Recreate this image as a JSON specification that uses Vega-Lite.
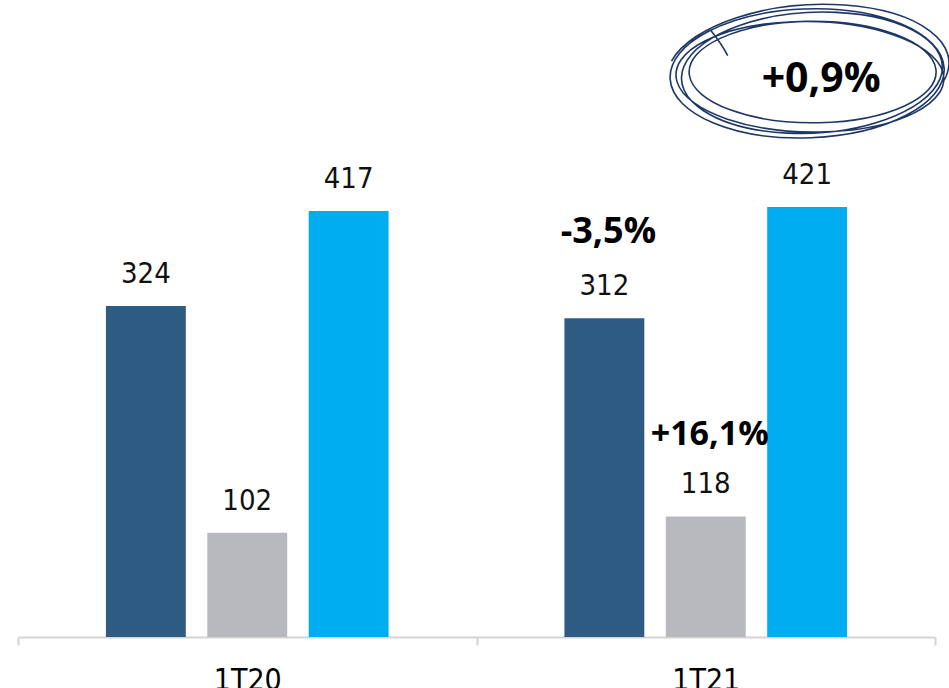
{
  "$schema": "https://vega.github.io/schema/vega-lite/v6.json",
  "width": 917,
  "height": 637,
  "autosize": {"type": "none"},
  "padding": {"left": 18, "top": 0, "right": 14, "bottom": 51},
  "background": "white",
  "config": {"view": {"stroke": null}},
  "datasets": {
    "bars": [
      {"period": "1T20", "series": "A", "value": 324},
      {"period": "1T20", "series": "B", "value": 102},
      {"period": "1T20", "series": "C", "value": 417},
      {"period": "1T21", "series": "A", "value": 312},
      {"period": "1T21", "series": "B", "value": 118},
      {"period": "1T21", "series": "C", "value": 421}
    ],
    "noteA": [
      {"period": "1T21", "series": "A", "pos": 396, "label": "-3,5%"}
    ],
    "noteB": [
      {"period": "1T21", "series": "B", "pos": 198, "label": "+16,1%"}
    ],
    "big": [
      {"period": "1T21", "series": "C", "pos": 545, "ring": 553, "label": "+0,9%"}
    ]
  },
  "encoding": {
    "x": {
      "field": "period", "type": "nominal", "title": null,
      "scale": {"domain": ["1T20", "1T21"], "paddingInner": 0, "paddingOuter": 0},
      "axis": {
        "domainColor": "#d4d4d4", "domainWidth": 2, "tickColor": "#d4d4d4", "tickWidth": 2,
        "tickSize": 8, "tickBand": "extent", "labelAngle": 0,
        "labelFont": "DejaVu Sans Condensed, Roboto", "labelFontSize": 30, "labelColor": "#000000",
        "labelPadding": 20, "labelBaseline": "top"
      }
    },
    "xOffset": {
      "field": "series", "type": "nominal",
      "scale": {"domain": ["A", "B", "C"], "paddingInner": 0.212, "paddingOuter": 0.867}
    }
  },
  "layer": [
    {
      "data": {"name": "bars"},
      "mark": {"type": "bar"},
      "encoding": {
        "y": {"field": "value", "type": "quantitative", "scale": {"domain": [0, 623.5], "nice": false, "zero": true}, "axis": null},
        "color": {
          "field": "series", "type": "nominal", "legend": null,
          "scale": {"domain": ["A", "B", "C"], "range": ["#2d5b82", "#b8b9bd", "#00adef"]}
        }
      }
    },
    {
      "data": {"name": "bars"},
      "mark": {"type": "text", "font": "DejaVu Sans Condensed, Roboto", "fontSize": 29, "color": "#111111", "baseline": "alphabetic", "dy": -23},
      "encoding": {
        "y": {"field": "value", "type": "quantitative"},
        "text": {"field": "value", "type": "quantitative"}
      }
    },
    {
      "data": {"name": "noteA"},
      "mark": {"type": "text", "font": "Open Sans", "fontWeight": "bold", "fontSize": 36, "color": "#000000", "baseline": "middle", "dx": 4},
      "encoding": {
        "y": {"field": "pos", "type": "quantitative"},
        "text": {"field": "label"}
      }
    },
    {
      "data": {"name": "noteB"},
      "mark": {"type": "text", "font": "Open Sans", "fontWeight": "bold", "fontSize": 34, "color": "#000000", "baseline": "middle", "dx": 4},
      "encoding": {
        "y": {"field": "pos", "type": "quantitative"},
        "text": {"field": "label"}
      }
    },
    {
      "data": {"name": "big"},
      "mark": {
        "type": "point", "filled": false, "stroke": "#1e3766", "strokeWidth": 1.6, "opacity": 1, "dx": 10,
        "shape": "M -1 0.05 A 1 0.47 -2 1 1 1 -0.03 A 1 0.47 -2 1 1 -1 0.05 M -0.95 0.07 A 0.97 0.4 1 1 1 0.99 0.0 A 0.97 0.4 1 1 1 -0.95 0.07 M -0.9 -0.04 A 0.93 0.43 -3 1 1 0.97 0.05 A 0.93 0.43 -3 1 1 -0.9 -0.04 M -0.86 0.02 A 0.9 0.37 0 1 1 0.94 -0.02 A 0.9 0.37 0 1 1 -0.86 0.02 M -0.99 -0.08 A 0.99 0.46 -4 1 1 1 0.06 M -0.7 -0.3 Q -0.62 -0.2 -0.58 -0.12",
        "size": 75076
      },
      "encoding": {
        "y": {"field": "ring", "type": "quantitative"}
      }
    },
    {
      "data": {"name": "big"},
      "mark": {"type": "text", "font": "Open Sans", "fontWeight": "bold", "fontSize": 41, "color": "#000000", "baseline": "middle", "dx": 14},
      "encoding": {
        "y": {"field": "pos", "type": "quantitative"},
        "text": {"field": "label"}
      }
    }
  ]
}
